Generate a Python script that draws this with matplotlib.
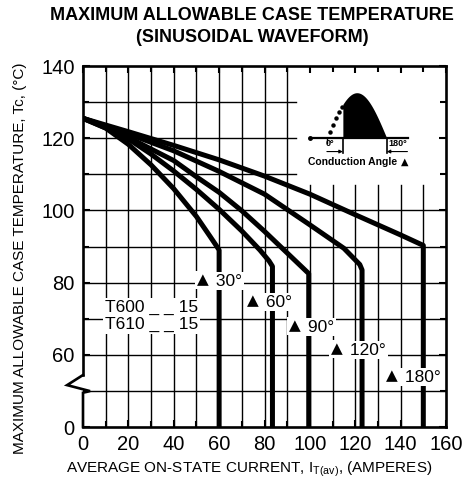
import numpy as np
import matplotlib
matplotlib.use("Agg")
import matplotlib.pyplot as plt

plt.rcParams['font.family'] = ['Liberation Sans', 'DejaVu Sans']

# ---------------- data ----------------
x_30 = [0, 10, 20, 30, 40, 50, 56, 59, 60, 60]
y_30 = [125.5, 122.8, 118.3, 112.6, 106.0, 98.3, 92.8, 90.0, 89.0, 0]
x_60 = [0, 10, 20, 30, 40, 50, 60, 70, 78, 82, 83.5, 83.5]
y_60 = [125.5, 123.3, 119.8, 115.6, 110.9, 105.8, 100.3, 94.3, 89.0, 86.0, 84.5, 0]
x_90 = [0, 20, 40, 50, 60, 70, 80, 90, 97, 99.5, 99.5]
y_90 = [125.5, 120.2, 113.8, 109.3, 105.0, 99.9, 94.2, 88.2, 84.0, 82.5, 0]
x_120 = [0, 20, 40, 60, 80, 100, 115, 122, 123, 123]
y_120 = [125.5, 121.2, 116.5, 110.8, 104.5, 96.0, 89.5, 85.0, 83.5, 0]
x_180 = [0, 20, 40, 60, 80, 100, 120, 140, 150, 150]
y_180 = [125.5, 121.8, 118.0, 114.0, 109.5, 104.5, 98.8, 93.2, 90.3, 0]

curve_labels = ["30°", "60°", "90°", "120°", "180°"]
tri_x = [52.9, 74.9, 93.4, 111.9, 136.1]
text_x = [56.6, 78.6, 97.1, 115.6, 139.8]
label_y = [80.4, 74.6, 67.7, 61.3, 53.8]

x_ticks = [0, 20, 40, 60, 80, 100, 120, 140, 160]
y_ticks = [0, 60, 80, 100, 120, 140]

# ---------------- broken y scale ----------------
def fwd(y):
    y = np.asarray(y, dtype=float)
    return np.where(y < 50, 40 + 0.2 * y, y)

def inv(v):
    v = np.asarray(v, dtype=float)
    return np.where(v < 50, (v - 40) / 0.2, v)

fig = plt.figure(figsize=(4.65, 4.86), dpi=100)
ax = fig.add_axes([83/465, 1-427/486, (446-83)/465, (427-66)/486])
ax.set_yscale('function', functions=(fwd, inv))
ax.set_xlim(0, 160)
ax.set_ylim(0, 140)

# grid (manual, to leave the inset area blank)
glw = 1.0
for xv in range(10, 160, 10):
    top = 107 if xv >= 100 else 140
    ax.plot([xv, xv], [0, top], color='black', lw=glw, zorder=1)
for yv in [50, 60, 70, 80, 90, 100, 110, 120, 130]:
    x0 = 3 if yv == 50 else 0
    x1 = 94 if yv >= 110 else 160
    ax.plot([x0, x1], [yv, yv], color='black', lw=glw, zorder=1)

# curves
lw = 3.6
for xs, ys in [(x_30, y_30), (x_60, y_60), (x_90, y_90), (x_120, y_120), (x_180, y_180)]:
    ax.plot(xs, ys, color='black', lw=lw, solid_capstyle='butt',
            solid_joinstyle='round', zorder=3)

# angle labels
box = dict(facecolor='white', edgecolor='none', pad=1.2)
for tx, nx, ly, t in zip(tri_x, text_x, label_y, curve_labels):
    ax.text(nx, ly, " " + t, fontsize=12.5, ha='left', va='center', zorder=5, bbox=box)
    ax.text(tx, ly + 0.3, "▲", fontsize=11, family='DejaVu Sans', ha='center',
            va='center', zorder=6, bbox=box)

ax.text(9.7, 73.2, "T600 _ _ 15", fontsize=12.5, ha='left', va='center', zorder=5,
        bbox=box)
ax.text(9.7, 68.3, "T610 _ _ 15", fontsize=12.5, ha='left', va='center', zorder=5,
        bbox=box)

# ---------------- inset waveform ----------------
x_deg0, x_deg180, base, amp = 107.5, 133.9, 120.0, 12.6
def wx(th):
    return x_deg0 + (x_deg180 - x_deg0) * th / 180.0
th_on = np.linspace(48, 180, 80)
ax.fill_between(wx(th_on), base, base + amp * np.sin(np.radians(th_on)),
                color='black', lw=0, zorder=4)
th_off = np.linspace(8, 44, 5)
ax.plot(wx(th_off), base + amp * np.sin(np.radians(th_off)), 'o', color='black',
        ms=2.2, zorder=4)
ax.plot([100, 143.2], [base, base], color='black', lw=1.6, zorder=4)
ax.plot([100], [base], 'o', color='black', ms=2.5, zorder=4)
ax.plot([x_deg0, x_deg0], [base, 118.8], color='black', lw=1.0, zorder=4)
ax.plot([wx(48), wx(48)], [base, 115.9], color='black', lw=1.2, zorder=4)
ax.plot([x_deg180, x_deg180], [base, 115.9], color='black', lw=1.2, zorder=4)
ax.annotate("", xy=(wx(48), 116.3), xytext=(107.5, 116.3),
            arrowprops=dict(arrowstyle='-|>', lw=0.8, color='black',
                            mutation_scale=5, shrinkA=0, shrinkB=0), zorder=4)
ax.annotate("", xy=(x_deg180, 116.3), xytext=(143.0, 116.3),
            arrowprops=dict(arrowstyle='-|>', lw=0.8, color='black',
                            mutation_scale=5, shrinkA=0, shrinkB=0), zorder=4)
ax.text(109.0, 118.5, "0°", fontsize=6.5, fontweight='bold', ha='center', va='center', zorder=5)
ax.text(138.8, 118.5, "180°", fontsize=6.5, fontweight='bold', ha='center', va='center', zorder=5)
ax.text(118.7, 113.4, "Conduction Angle", fontsize=7.5, fontweight='bold',
        ha='center', va='center', zorder=5)
ax.text(141.9, 113.5, "▲", fontsize=7, family='DejaVu Sans',
        ha='center', va='center', zorder=5)

# ---------------- spines / ticks ----------------
for s in ['top', 'right', 'bottom']:
    ax.spines[s].set_linewidth(1.9)
ax.spines['left'].set_visible(False)
slw = 1.9
ax.plot([0, 0], [140, 54.4], color='black', lw=slw, clip_on=False, zorder=6,
        solid_capstyle='projecting')
ax.plot([0, -7, 3.1, 0, 0], [54.4, 51.6, 49.7, 47.5, 0], color='black', lw=slw,
        clip_on=False, zorder=6, solid_joinstyle='miter')

ax.set_xticks(x_ticks)
ax.set_xticks(range(10, 160, 20), minor=True)
ax.set_yticks(y_ticks)
ax.set_yticks([50, 70, 90, 110, 130], minor=True)
ax.set_xticklabels([str(v) for v in x_ticks])
ax.set_yticklabels([str(v) for v in y_ticks])
ax.tick_params(which='both', direction='in', length=5, width=1.5,
               top=True, right=True, labelsize=14.5, pad=6)
ax.tick_params(which='minor', length=4)

# ---------------- texts ----------------
fig.text(252/465, 1-16/486, "MAXIMUM ALLOWABLE CASE TEMPERATURE", fontsize=13,
         fontweight='bold', ha='center', va='center')
fig.text(252/465, 1-37/486, "(SINUSOIDAL WAVEFORM)", fontsize=13,
         fontweight='bold', ha='center', va='center')
fig.text(249/465, 1-469/486,
         r"AVERAGE ON-STATE CURRENT, I$_\mathregular{T(av)}$, (AMPERES)",
         fontsize=11, ha='center', va='center')
fig.text(20/465, 1-258/486, "MAXIMUM ALLOWABLE CASE TEMPERATURE, Tc, (°C)",
         fontsize=11, ha='center', va='center', rotation=90)

fig.savefig("out.png", dpi=100)
